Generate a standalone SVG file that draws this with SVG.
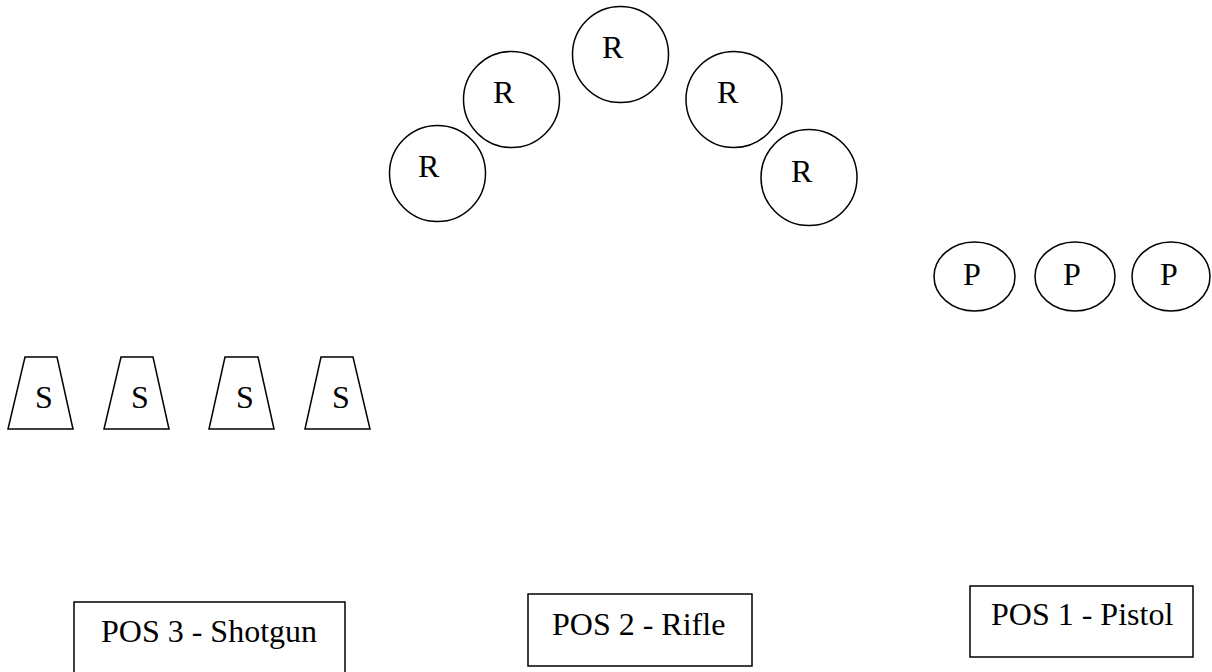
<svg xmlns="http://www.w3.org/2000/svg" width="1212" height="672" viewBox="0 0 1212 672">
<style>
.s{fill:#fff;stroke:#000;stroke-width:1.5}
.t{font-family:"Liberation Serif","Times New Roman",serif;font-size:32px;fill:#000}
</style>
<rect width="1212" height="672" fill="#fff"/>
<g id="r1"><circle class="s" cx="437.5" cy="173.5" r="48"/><text class="t" x="418" y="177">R</text></g>
<g id="r2"><circle class="s" cx="511.5" cy="99.5" r="48"/><text class="t" x="493" y="103">R</text></g>
<g id="r3"><circle class="s" cx="620.5" cy="54.5" r="48"/><text class="t" x="602" y="58">R</text></g>
<g id="r4"><circle class="s" cx="734" cy="99.5" r="48"/><text class="t" x="717" y="103">R</text></g>
<g id="r5"><circle class="s" cx="809" cy="177.5" r="48"/><text class="t" x="791" y="182">R</text></g>
<g id="p1"><ellipse class="s" cx="974.5" cy="276.5" rx="40.5" ry="34.5"/><text class="t" x="963" y="285">P</text></g>
<g id="p2"><ellipse class="s" cx="1075" cy="276.5" rx="40" ry="34.5"/><text class="t" x="1063" y="285">P</text></g>
<g id="p3"><ellipse class="s" cx="1171" cy="276.5" rx="39" ry="34.5"/><text class="t" x="1160" y="285">P</text></g>
<g id="s1"><polygon class="s" points="25,357 57,357 73,429 8,429"/><text class="t" x="35" y="408">S</text></g>
<g id="s2"><polygon class="s" points="121,357 153,357 169,429 104,429"/><text class="t" x="131" y="408">S</text></g>
<g id="s3"><polygon class="s" points="225,357 258,357 274,429 209,429"/><text class="t" x="236" y="408">S</text></g>
<g id="s4"><polygon class="s" points="321,357 353,357 370,429 305,429"/><text class="t" x="332" y="408">S</text></g>
<g id="pos3"><rect class="s" x="74" y="602" width="271" height="72"/><text class="t" x="101" y="642">POS 3 - Shotgun</text></g>
<g id="pos2"><rect class="s" x="528" y="594" width="224" height="72"/><text class="t" x="552" y="635">POS 2 - Rifle</text></g>
<g id="pos1"><rect class="s" x="970" y="586" width="223" height="71"/><text class="t" x="991" y="625">POS 1 - Pistol</text></g>
<g id="connectors"/>
</svg>
